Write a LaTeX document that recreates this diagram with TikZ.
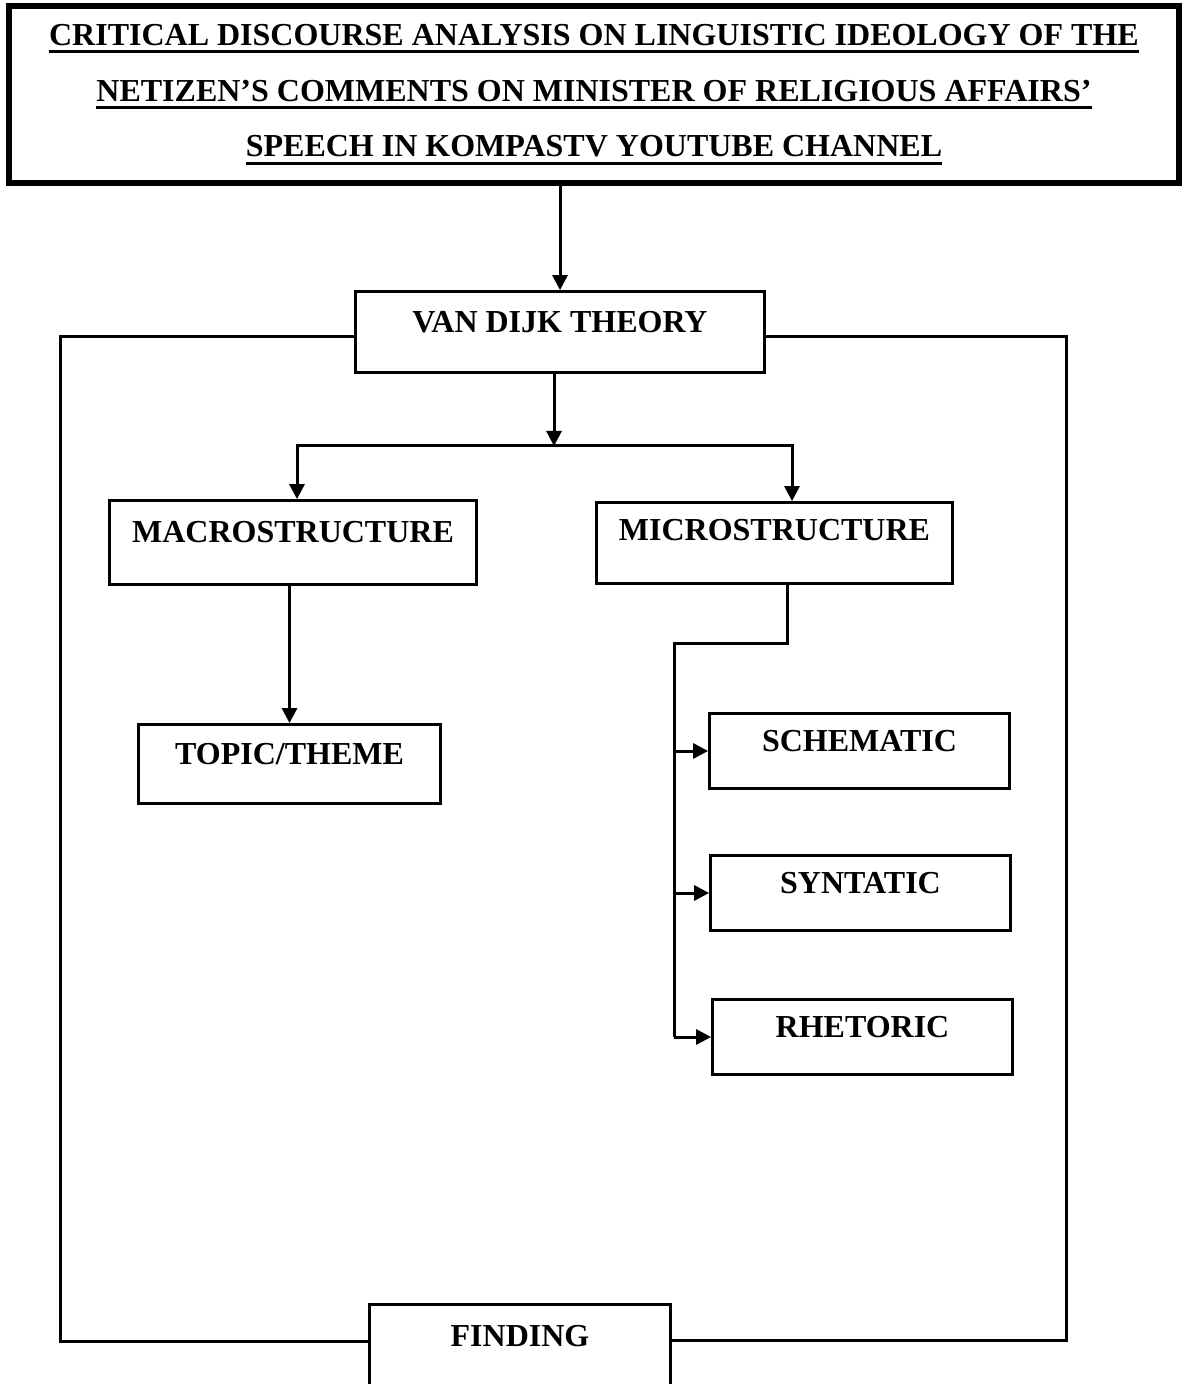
\documentclass[tikz,border=0pt]{standalone}
\usepackage{fontspec}
\setmainfont{Liberation Serif}
\usetikzlibrary{arrows.meta}

\newsavebox{\ulinebox}
\newcommand{\titleline}[1]{\sbox{\ulinebox}{#1}\rlap{\rule[-4pt]{\wd\ulinebox}{1.5pt}}\usebox{\ulinebox}}

\begin{document}
\begin{tikzpicture}[x=0.5pt, y=-0.5pt,
    every node/.style={font=\fontsize{16}{27.9}\selectfont\bfseries},
    box/.style={draw, line width=1.6pt, inner sep=0pt, text height=11pt, text depth=10.4pt},
    arr/.style={line width=1.5pt, -{Triangle[width=7.5pt,length=7.5pt]}},
    link/.style={line width=1.5pt}
  ]
    % Page frame
    \path[use as bounding box] (0,0) rectangle (1183,1384);
    \clip (0,0) rectangle (1183,1384);

    % Research title
    \node[draw, line width=3pt, inner sep=0pt, minimum width=585pt, minimum height=88.5pt, align=center] (title) at (594,94.5)
      {\titleline{CRITICAL DISCOURSE ANALYSIS ON LINGUISTIC IDEOLOGY OF THE}\\
       \titleline{NETIZEN’S COMMENTS ON MINISTER OF RELIGIOUS AFFAIRS’}\\
       \titleline{SPEECH IN KOMPASTV YOUTUBE CHANNEL}};

    % Theory and its two structures
    \node[box, minimum width=204.3pt, minimum height=40.3pt] (vd) at (560,332) {VAN DIJK THEORY};
    \node[box, minimum width=183.3pt, minimum height=41.8pt, text depth=11.4pt] (macro) at (293,542.5) {MACROSTRUCTURE};
    \node[box, minimum width=177.8pt, minimum height=40.3pt, text depth=13.4pt] (micro) at (774.5,543) {MICROSTRUCTURE};

    % Elements of each structure
    \node[box, minimum width=150.8pt, minimum height=39.3pt] (topic) at (289.5,764) {TOPIC/THEME};
    \node[box, minimum width=149.8pt, minimum height=37.3pt] (schem) at (859.5,751) {SCHEMATIC};
    \node[box, minimum width=149.8pt, minimum height=37.3pt] (synt) at (860.5,893) {SYNTATIC};
    \node[box, minimum width=149.8pt, minimum height=37.3pt] (rhet) at (862.5,1037) {RHETORIC};

    % Result
    \node[box, minimum width=150.3pt, minimum height=50pt, text depth=19.4pt] (find) at (520,1354.6) {FINDING};

    % Arrows down the tree
    \draw[arr] (title.south -| vd.north) -- (vd.north);
    \coordinate (split) at (554,446);
    \draw[arr] (vd.south -| split) -- (split);
    \draw[arr] (split) -| ([xshift=2pt]macro.north);
    \draw[arr] (split) -| ([xshift=8.75pt]micro.north);
    \draw[arr] (macro.south -| topic.north) -- (topic.north);

    % Microstructure branch
    \coordinate (trunk) at (674,643);
    \draw[link] ([xshift=6.25pt]micro.south) |- (trunk) -- (trunk |- rhet.west);
    \foreach \b in {schem,synt,rhet}
      \draw[arr] (trunk |- \b.west) -- (\b.west);

    % Outer loop to the finding
    \coordinate (loopL) at (60,1341);
    \coordinate (loopR) at (1066,1340);
    \draw[link] ([yshift=-2.5pt]vd.west) -| (loopL) -- (loopL -| find.west);
    \draw[link] ([yshift=-2.5pt]vd.east) -| (loopR) -- (loopR -| find.east);
\end{tikzpicture}
\end{document}
